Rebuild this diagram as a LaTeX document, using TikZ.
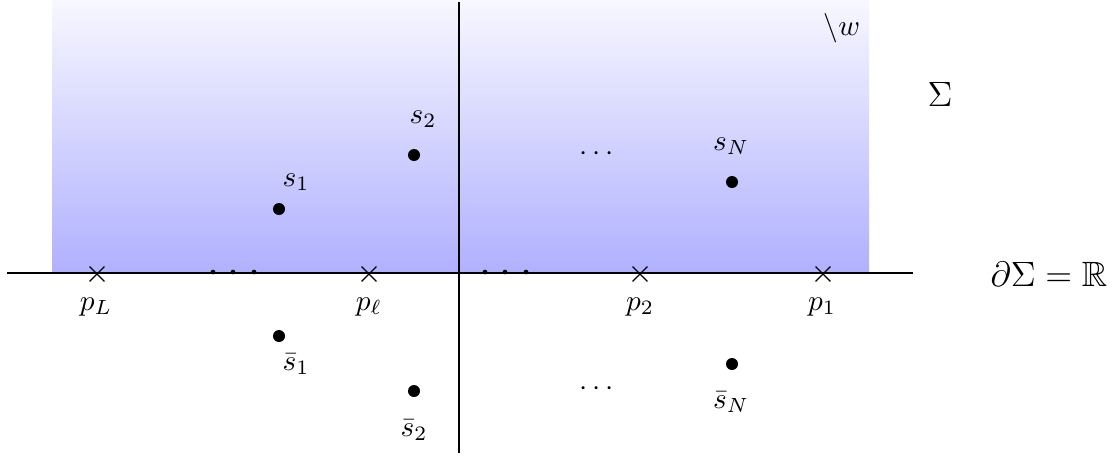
\documentclass[tikz,border=0pt]{standalone}
\usepackage{amssymb}
\usetikzlibrary{shapes.misc}
\begin{document}
\begin{tikzpicture}[x=0.3413pt,y=-0.3413pt,
  axisline/.style={line width=0.9pt},
  crossmark/.style={cross out,draw,line width=0.45pt,minimum size=4.6pt,inner sep=0pt},
  bigdot/.style={circle,fill,inner sep=0pt,minimum size=4.1pt},
  smalldot/.style={circle,fill,inner sep=0pt,minimum size=1.6pt},
  lbl/.style={inner sep=0pt}]
\useasboundingbox (0,0) rectangle (1120,456);
% shaded upper half
\shade[top color=blue!3,bottom color=blue!31] (52,0) rectangle (869,273);
% axes
\coordinate (xl) at (7,273);
\coordinate (xr) at (913,273);
\coordinate (yt) at (459,2);
\coordinate (yb) at (459,453);
\draw[axisline] (xl) -- (xr);
\draw[axisline] (yt) -- (yb);
% boundary points
\node[crossmark] (pL) at (97,274) {};
\node[crossmark] (pl) at (369,274) {};
\node[crossmark] (p2) at (640,274) {};
\node[crossmark] (p1) at (823,274) {};
\node[lbl] (pLl) at (96,307) {$p_L$};
\node[lbl] (pll) at (369,307) {$p_\ell$};
\node[lbl] (p2l) at (640,307) {$p_2$};
\node[lbl] (p1l) at (822,307) {$p_1$};
% dots on axis
\node[smalldot] (d1) at (213,272) {};
\node[smalldot] (d2) at (233,272) {};
\node[smalldot] (d3) at (254,272) {};
\node[smalldot] (d4) at (485,272) {};
\node[smalldot] (d5) at (505,272) {};
\node[smalldot] (d6) at (526,272) {};
% punctures
\node[bigdot] (s1) at (279,209) {};
\node[bigdot] (s2) at (414,155) {};
\node[bigdot] (sN) at (732,182) {};
\node[bigdot] (sb1) at (279,336) {};
\node[bigdot] (sb2) at (414,391) {};
\node[bigdot] (sbN) at (732,364) {};
\node[lbl] (s1l) at (296,182) {$s_1$};
\node[lbl] (s2l) at (423,119) {$s_2$};
\node[lbl] (sNl) at (731,146) {$s_N$};
\node[lbl] (sb1l) at (296,364) {$\bar{s}_1$};
\node[lbl] (sb2l) at (414,430) {$\bar{s}_2$};
\node[lbl] (sbNl) at (731,402) {$\bar{s}_N$};
\node[lbl] (e1) at (597,154) {$\cdots$};
\node[lbl] (e2) at (597,389) {$\cdots$};
% labels
\node[lbl] (w) at (842,28) {$\backslash w$};
\node[lbl] (Sig) at (940,94) {\large $\Sigma$};
\node[lbl] (bd) at (1049,274) {\large $\partial\Sigma=\mathbb{R}$};
\end{tikzpicture}
\end{document}
